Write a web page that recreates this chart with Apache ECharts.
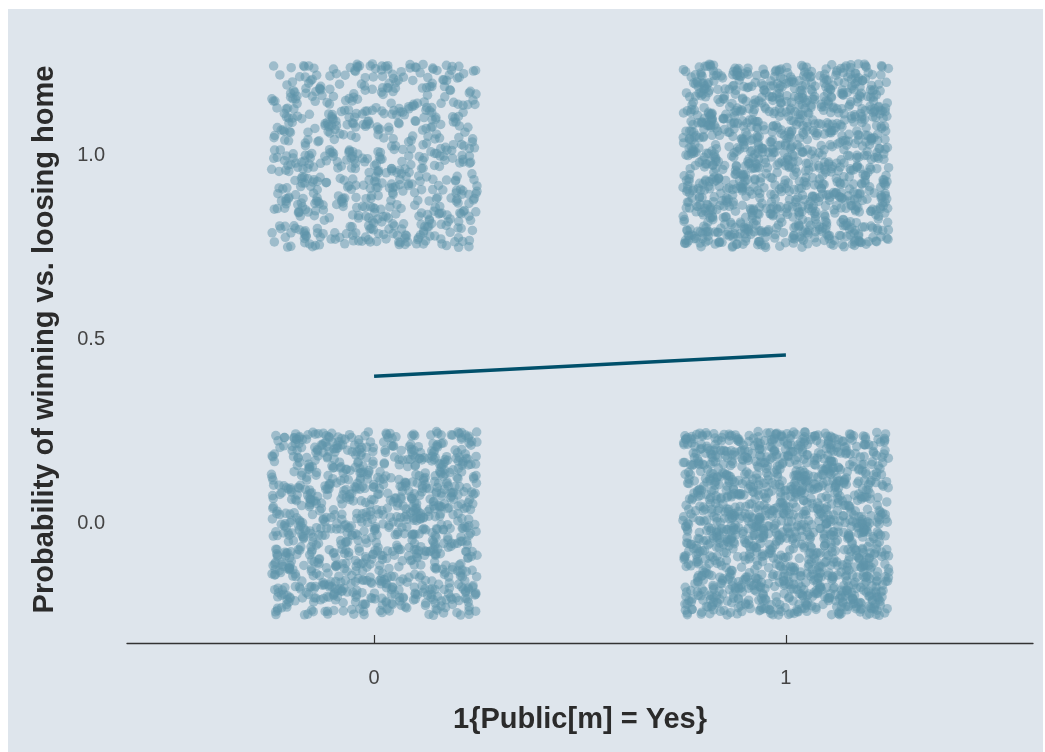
<!DOCTYPE html>
<html>
<head>
<meta charset="utf-8">
<script src="https://cdn.jsdelivr.net/npm/echarts@6/dist/echarts.min.js"></script>
<style>
  html, body { margin: 0; padding: 0; background: #ffffff; width: 1045px; height: 752px; overflow: hidden; }
  #wrap { position: absolute; left: 8px; top: 9px; width: 1035px; height: 743px; background: #dee5ec; }
  #chart { width: 1035px; height: 743px; }
</style>
</head>
<body>
<div id="wrap"><div id="chart"></div></div>
<script>
// ---- Data ----
// x categories: 1{Public[m] = Yes}
const groups = [0, 1];
const xTickLabels = ['0', '1'];
const yTickValues = [0, 0.5, 1.0];
// number of observations with outcome 1 (winning) / 0 (losing home) per group (estimated from point density)
const winCounts = [650, 1150];
const loseCounts = [980, 1350];
// fitted probability line at x = 0 and x = 1
const fittedProb = [0.40, 0.458];

// ---- Display jitter (geom_jitter style, width/height 0.25) ----
const JITTER = 0.25;
function jit(i) { // deterministic offset in [-1, 1)
  const s = Math.sin(i * 12.9898 + 78.233) * 43758.5453;
  return (s - Math.floor(s)) * 2 - 1;
}
const points = [];
let k = 1;
groups.forEach((g, gi) => {
  [[1, winCounts[gi]], [0, loseCounts[gi]]].forEach(([yv, n]) => {
    for (let i = 0; i < n; i++) {
      points.push([g + JITTER * jit(k), yv + JITTER * jit(k + 7919)]);
      k += 2;
    }
  });
});
const lineData = groups.map((g, i) => [g, fittedProb[i]]);

const font = "'Liberation Sans', Arial, sans-serif";
const chart = echarts.init(document.getElementById('chart'), null, { renderer: 'canvas' });
chart.setOption({
  animation: false,
  backgroundColor: 'transparent',
  grid: { left: 119, right: 10, top: 27, bottom: 109 },
  xAxis: {
    type: 'value', min: -0.6, max: 1.6,
    name: '1{Public[m] = Yes}', nameLocation: 'middle', nameGap: 62,
    nameTextStyle: { fontFamily: font, fontSize: 29, fontWeight: 'bold', color: '#2b2b2b' },
    axisLine: { show: true, onZero: false, lineStyle: { color: '#333333', width: 1.3 } },
    axisTick: { show: true, inside: true, length: 8, customValues: groups, lineStyle: { color: '#333333', width: 1.2 } },
    axisLabel: { customValues: groups, margin: 25, fontFamily: font, fontSize: 20, color: '#444444',
      formatter: v => xTickLabels[groups.indexOf(Math.round(v))] },
    splitLine: { show: false }
  },
  yAxis: {
    type: 'value', min: -0.325, max: 1.325,
    name: 'Probability of winning vs. loosing home', nameLocation: 'middle', nameGap: 68, nameRotate: 90,
    nameTextStyle: { fontFamily: font, fontSize: 29, fontWeight: 'bold', color: '#2b2b2b' },
    axisLine: { show: false },
    axisTick: { show: false },
    axisLabel: { customValues: yTickValues, margin: 22, fontFamily: font, fontSize: 20, color: '#444444',
      formatter: v => v.toFixed(1) },
    splitLine: { show: false }
  },
  series: [
    {
      type: 'scatter', data: points, symbol: 'circle', symbolSize: 9.5, z: 2,
      itemStyle: { color: '#5e93a9', opacity: 0.5 },
      emphasis: { disabled: true }, silent: true
    },
    {
      type: 'line', data: lineData, symbol: 'none', z: 3,
      lineStyle: { color: '#01506b', width: 3.6 },
      emphasis: { disabled: true }, silent: true
    }
  ]
});
</script>
</body>
</html>
